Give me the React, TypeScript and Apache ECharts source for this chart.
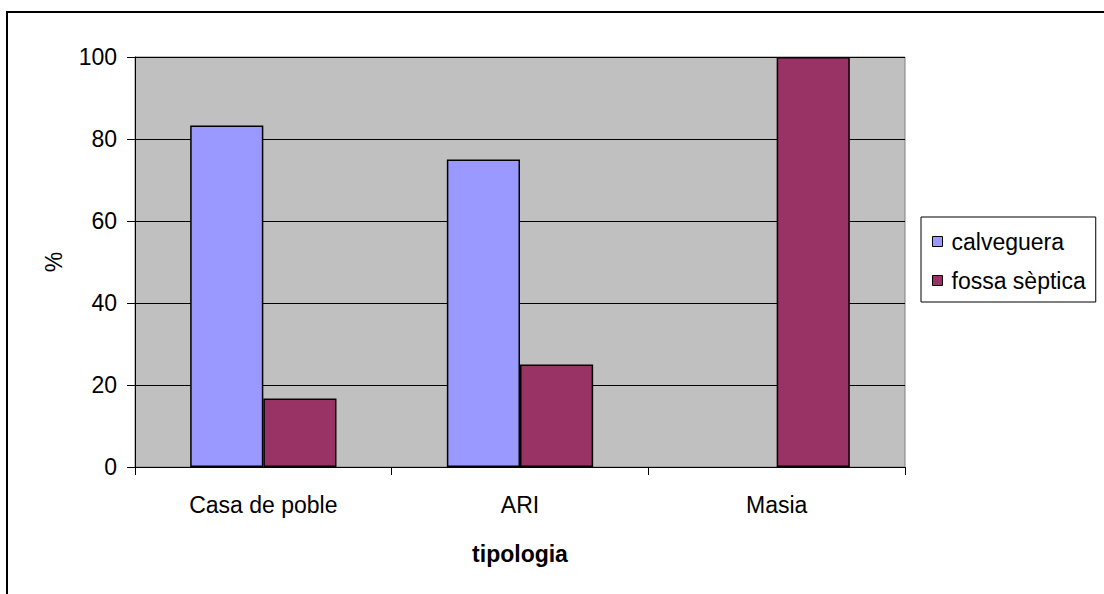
import React, { useEffect, useRef } from "react";
import * as echarts from "echarts";

const categories = ["Casa de poble", "ARI", "Masia"];
const calveguera = [83.3, 75, 0];
const fossaSeptica = [16.7, 25, 100];
const seriesNames = ["calveguera", "fossa sèptica"];
const yTicks = { min: 0, max: 100, interval: 20 };

const FONT = "'Liberation Sans', Arial, sans-serif";
const FS = 23;

function toItems(values: number[]) {
  return values.map((v) => (v === 0 ? { value: v, itemStyle: { borderWidth: 0 } } : v));
}

export default function App() {
  const ref = useRef<HTMLDivElement>(null);
  useEffect(() => {
    if (!ref.current) return;
    const chart = echarts.init(ref.current, null, { renderer: "svg" });
    chart.setOption({
      animation: false,
      backgroundColor: "#ffffff",
      textStyle: { fontFamily: FONT, color: "#000" },
      graphic: [
        {
          type: "rect",
          shape: { x: 7, y: 12, width: 1200, height: 700 },
          style: { fill: "none", stroke: "#000", lineWidth: 2 },
          silent: true,
          z: 100,
        },
      ],
      grid: {
        left: 135,
        top: 57,
        right: 199,
        bottom: 127,
        show: true,
        backgroundColor: "#c0c0c0",
        borderColor: "#808080",
        borderWidth: 1,
      },
      legend: {
        orient: "vertical",
        left: 921,
        top: 217,
        padding: [13, 10, 10, 11],
        itemGap: 16,
        itemWidth: 10,
        itemHeight: 10,
        borderColor: "#000",
        borderWidth: 1,
        backgroundColor: "#fff",
        icon: "rect",
        itemStyle: { borderColor: "#000", borderWidth: 1 },
        textStyle: { fontSize: FS, fontFamily: FONT, color: "#000", padding: [0, 0, 0, 4] },
        data: seriesNames,
      },
      xAxis: {
        type: "category",
        data: categories,
        name: "tipologia",
        nameLocation: "middle",
        nameGap: 75,
        nameTextStyle: { fontSize: FS, fontWeight: "bold", fontFamily: FONT, color: "#000" },
        axisLine: { show: true, lineStyle: { color: "#000", width: 1 } },
        axisTick: { show: true, length: 8, lineStyle: { color: "#000" } },
        axisLabel: { fontSize: FS, color: "#000", margin: 26, fontFamily: FONT },
        splitLine: { show: false },
      },
      yAxis: {
        type: "value",
        min: yTicks.min,
        max: yTicks.max,
        interval: yTicks.interval,
        name: "%",
        nameLocation: "middle",
        nameGap: 70,
        nameRotate: 90,
        nameTextStyle: { fontSize: FS, fontFamily: FONT, color: "#000" },
        axisLine: { show: true, lineStyle: { color: "#000", width: 1 } },
        axisTick: { show: true, length: 8, lineStyle: { color: "#000" } },
        axisLabel: { fontSize: FS, color: "#000", margin: 18, fontFamily: FONT },
        splitLine: { show: true, lineStyle: { color: "#000", width: 1 } },
      },
      series: [
        {
          name: seriesNames[0],
          type: "bar",
          data: toItems(calveguera),
          barGap: "0%",
          barCategoryGap: "43%",
          itemStyle: { color: "#9999ff", borderColor: "#000", borderWidth: 1.5 },
        },
        {
          name: seriesNames[1],
          type: "bar",
          data: toItems(fossaSeptica),
          barGap: "0%",
          barCategoryGap: "43%",
          itemStyle: { color: "#993366", borderColor: "#000", borderWidth: 1.5 },
        },
      ],
    });
    return () => chart.dispose();
  }, []);
  return (
    <div
      ref={ref}
      style={{ position: "fixed", left: 0, top: 0, width: 1104, height: 594 }}
    />
  );
}
